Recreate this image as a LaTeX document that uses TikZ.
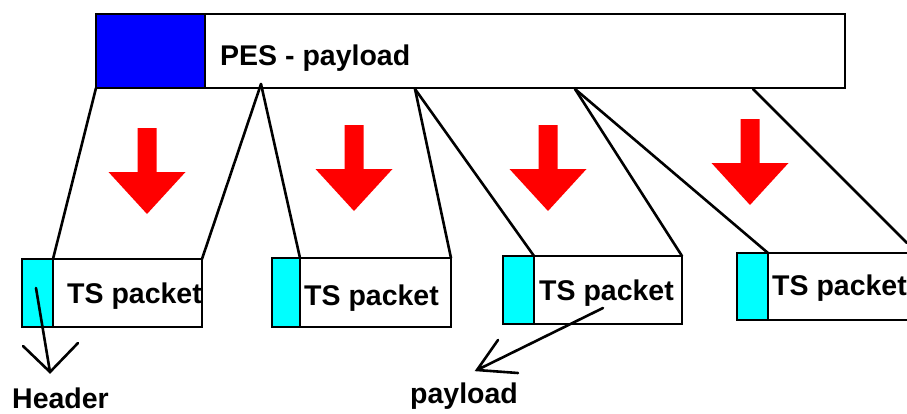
\documentclass[tikz,border=0pt]{standalone}
\usepackage{fontspec}
\setmainfont{Liberation Sans}
\definecolor{tshead}{RGB}{0,255,255}
\definecolor{pesblue}{RGB}{0,0,255}
\definecolor{arrowred}{RGB}{255,0,0}
\begin{document}
\begin{tikzpicture}[x=1pt,y=-1pt,
  box/.style={draw=black,line width=2pt,inner sep=0pt,outer sep=0pt,anchor=north west},
  lbl/.style={inner sep=0pt,anchor=base west,font=\fontsize{28.5}{30}\selectfont\bfseries},
  link/.style={line width=2.6pt,line cap=round},
  downarrow/.pic={\fill[arrowred] (-9.5,0) -- (9.5,0) -- (9.5,44) -- (38.5,44) -- (0,86)
                   -- (-38.5,44) -- (-9.5,44) -- cycle;}]
\useasboundingbox (0,0) rectangle (907,413);

% PES packet: header block and payload
\node[box,fill=pesblue,minimum width=109pt,minimum height=74pt] (pesh) at (96,14) {};
\node[box,fill=white,minimum width=640pt,minimum height=74pt] (pes) at (205,14) {};
\node[lbl] (pestext) at (220,65) {PES - payload};

% split points on the lower edge of the PES packet
\coordinate (p0) at (96,88);
\coordinate (p1) at (261,84);
\coordinate (p2) at (415,89);
\coordinate (p3) at (575,89);
\coordinate (p4) at (753,89);
\coordinate (p5) at (907,243);

% TS packets: cyan header plus payload
\node[box,fill=tshead,minimum width=31pt,minimum height=68pt] (h1) at (22,259) {};
\node[box,fill=white,minimum width=149pt,minimum height=68pt] (t1) at (53,259) {};
\node[box,fill=tshead,minimum width=28pt,minimum height=69pt] (h2) at (272,258) {};
\node[box,fill=white,minimum width=151pt,minimum height=69pt] (t2) at (300,258) {};
\node[box,fill=tshead,minimum width=31pt,minimum height=68pt] (h3) at (503,256) {};
\node[box,fill=white,minimum width=148pt,minimum height=68pt] (t3) at (534,256) {};
\node[box,fill=tshead,minimum width=31pt,minimum height=67pt] (h4) at (737,253) {};
\node[box,fill=white,minimum width=200pt,minimum height=67pt] (t4) at (768,253) {};

\node[lbl] (l1) at (67,303) {TS packet};
\node[lbl] (l2) at (304,305) {TS packet};
\node[lbl] (l3) at (539,300) {TS packet};
\node[lbl] (l4) at (772,295) {TS packet};

% fan-out lines from the PES packet to the TS packets
\draw[link] (p0) -- (h1.north east);
\draw[link] (p1) -- (t1.north east);
\draw[link] (p1) -- (h2.north east);
\draw[link] (p2) -- (t2.north east);
\draw[link] (p2) -- (h3.north east);
\draw[link] (p3) -- (t3.north east);
\draw[link] (p3) -- (h4.north east);
\draw[link] (p4) -- (p5);

% red arrows
\pic at (147,128) {downarrow};
\pic at (354,125) {downarrow};
\pic at (548,125) {downarrow};
\pic at (750,119) {downarrow};

% callouts
\coordinate (hs) at (36,288);
\coordinate (ht) at (50,372);
\coordinate (ha) at (23,346);
\coordinate (hb) at (78,343);
\draw[link] (hs) -- (ht) (ha) -- (ht) -- (hb);
\node[lbl] (header) at (12,408) {Header};

\coordinate (ps) at (603,308);
\coordinate (pt) at (477,370);
\coordinate (pa) at (498,340);
\coordinate (pb) at (518,373);
\draw[link] (ps) -- (pt) (pa) -- (pt) -- (pb);
\node[lbl] (payload) at (410,403) {payload};
\end{tikzpicture}
\end{document}
